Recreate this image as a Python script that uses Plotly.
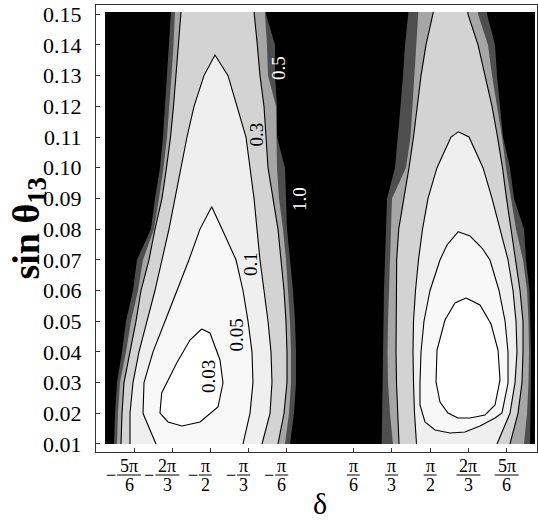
import plotly.graph_objects as go

SERIF = "'Liberation Serif', 'Times New Roman', Times, serif"

# ---------------- data ----------------
# vertical axis rows (sin theta13)
SIN_ROWS = [0.01, 0.02, 0.03, 0.04, 0.05, 0.06, 0.07, 0.08,
            0.09, 0.10, 0.11, 0.12, 0.13, 0.14, 0.15]
SIN_TICK_LABELS = ["0.01", "0.02", "0.03", "0.04", "0.05", "0.06", "0.07", "0.08",
                   "0.09", "0.10", "0.11", "0.12", "0.13", "0.14", "0.15"]
SIN_MIN, SIN_MAX = 0.01, 0.1507

# horizontal axis (delta, in units of pi/6 along the plotted axis)
DELTA_MIN, DELTA_MAX = -5.62, 5.62
DELTA_TICKS = [-4.86, -3.86, -2.87, -1.87, -0.87, 0.87, 1.87, 2.88, 3.88, 4.88]
DELTA_NUM = ["5π", "2π", "π", "π", "π", "π", "π", "π", "2π", "5π"]
DELTA_DEN = ["6", "3", "2", "3", "6", "6", "3", "2", "3", "6"]
DELTA_NEG = [True, True, True, True, True, False, False, False, False, False]

# contour levels and shades (region below each level)
LEVELS = ["1.0", "0.5", "0.3", "0.1", "0.05", "0.03"]
SHADES = ["#4e4e4e", "#a6a6a6", "#d3d3d3", "#efefef", "#f8f8f8", "#ffffff"]
LEVEL_LINES = [False, False, True, True, True, True]

# ---- left region (delta < 0) ----
LB_10_L = [-5.386, -5.359, -5.307, -5.176, -5.072, -4.889, -4.784, -4.418, -4.314, -4.183, -4.105, -4.052, -4.000, -3.948, -3.895]
LB_10_R = [-0.784, -0.680, -0.627, -0.627, -0.654, -0.706, -0.784, -0.863, -0.889, -0.915, -1.124, -1.124, -1.176, -1.176, -1.412]
LB_05_L = [-5.307, -5.281, -5.229, -5.072, -4.941, -4.758, -4.627, -4.340, -4.209, -4.092, -4.000, -3.935, -3.882, -3.830, -3.791]
LB_05_R = [-0.915, -0.810, -0.758, -0.758, -0.784, -0.837, -0.889, -0.967, -1.072, -1.124, -1.137, -1.150, -1.359, -1.386, -1.438]
LB_03_L = [-5.203, -5.176, -5.124, -4.967, -4.810, -4.680, -4.471, -4.314, -4.131, -4.013, -3.908, -3.830, -3.765, -3.694, -3.634]
LB_03_R = [-1.098, -0.941, -0.863, -0.863, -0.889, -0.941, -1.020, -1.098, -1.229, -1.359, -1.412, -1.464, -1.569, -1.639, -1.718]
LB_01_L = [-4.967, -4.967, -4.889, -4.732, -4.523, -4.314, -4.131, -3.948, -3.791, -3.634, -3.477, -3.294, -3.033]
LB_01_PEAK = (-2.745, 0.1367)
LB_01_R = [-1.516, -1.307, -1.255, -1.281, -1.359, -1.464, -1.569, -1.647, -1.725, -1.830, -1.935, -2.170, -2.405]
LB_005_L = [-4.288, -4.627, -4.601, -4.366, -4.052, -3.739, -3.425, -3.137]
LB_005_PEAK = (-2.831, 0.0873)
LB_005_R = [-2.013, -1.830, -1.752, -1.778, -1.882, -2.013, -2.196, -2.562]
LB_003_X = [-3.093, -2.876, -2.614, -2.536, -2.667, -3.137, -3.608, -3.974, -4.183, -4.139, -3.746, -3.399]
LB_003_Y = [0.04746, 0.04616, 0.03736, 0.02987, 0.02205, 0.01717, 0.01586, 0.01717, 0.02010, 0.02661, 0.03638, 0.04388]

# ---- right region (delta > 0) ----
RB_10_L = [1.613, 1.621, 1.634, 1.647, 1.660, 1.673, 1.699, 1.725, 1.752, 1.961, 2.039, 2.105, 2.170, 2.222, 2.308]
RB_10_R = [5.490, 5.503, 5.516, 5.516, 5.503, 5.477, 5.386, 5.333, 5.072, 4.967, 4.784, 4.706, 4.627, 4.575, 4.366]
RB_05_L = [1.908, 1.830, 1.778, 1.765, 1.778, 1.804, 1.830, 1.856, 1.882, 2.248, 2.366, 2.418, 2.471, 2.523, 2.570]
RB_05_R = [5.333, 5.412, 5.451, 5.464, 5.451, 5.412, 5.307, 5.124, 4.993, 4.863, 4.758, 4.627, 4.497, 4.392, 4.131]
RB_03_L = [2.065, 2.026, 2.000, 1.987, 1.987, 1.987, 2.005, 2.058, 2.196, 2.327, 2.444, 2.536, 2.641, 2.771, 2.962]
RB_03_R = [4.967, 5.176, 5.281, 5.307, 5.307, 5.229, 5.124, 4.993, 4.876, 4.771, 4.641, 4.497, 4.314, 4.131, 3.869]
RB_01_L = [2.523, 2.471, 2.444, 2.431, 2.444, 2.497, 2.575, 2.680, 2.824, 3.059, 3.425]
RB_01_PEAK = (3.616, 0.1117)
RB_01_R = [4.627, 4.967, 5.098, 5.150, 5.124, 5.046, 4.915, 4.706, 4.497, 4.261, 3.895]
RB_005_X = [3.616, 3.922, 4.235, 4.444, 4.680, 4.837, 4.915, 4.915, 4.758, 4.575, 4.183, 3.791,
            3.399, 3.007, 2.745, 2.614, 2.614, 2.641, 2.719, 2.876, 3.137, 3.320]
RB_005_Y = [0.07915, 0.07775, 0.07384, 0.06993, 0.06000, 0.05007, 0.03997, 0.02987, 0.02010, 0.01847, 0.01586, 0.01391,
            0.01358, 0.01456, 0.01717, 0.02270, 0.02987, 0.03997, 0.05007, 0.06000, 0.06993, 0.07482]
RB_003_X = [3.817, 4.183, 4.471, 4.654, 4.706, 4.575, 4.314, 3.922, 3.608, 3.346, 3.137, 3.033, 3.059, 3.268, 3.529]
RB_003_Y = [0.05756, 0.05528, 0.04909, 0.04062, 0.03085, 0.02270, 0.01945, 0.01847, 0.01847, 0.02010, 0.02368, 0.03020, 0.04062, 0.05039, 0.05593]

# contour labels
LABEL_TEXT = ["0.03", "0.05", "0.1", "0.3", "0.5", "1.0"]
LABEL_X = [-2.928, -2.183, -1.830, -1.686, -1.072, -0.549]
LABEL_Y = [0.03182, 0.04550, 0.06863, 0.11065, 0.13248, 0.08980]
LABEL_COLOR = ["black", "black", "black", "black", "white", "white"]


# ---------------- geometry helpers ----------------
def open_shape(left, right):
    fx = left + [left[-1], right[-1]] + right[::-1]
    fy = SIN_ROWS + [SIN_MAX, SIN_MAX] + SIN_ROWS[::-1]
    lx = left + [left[-1], None, right[-1]] + right[::-1]
    ly = SIN_ROWS + [SIN_MAX, None, SIN_MAX] + SIN_ROWS[::-1]
    return fx, fy, lx, ly


def peaked_shape(left, peak, right):
    rows = SIN_ROWS[:len(left)]
    fx = left + [peak[0]] + right[::-1]
    fy = rows + [peak[1]] + rows[::-1]
    return fx, fy, fx, fy


def loop_shape(xs, ys):
    fx = xs + [xs[0]]
    fy = ys + [ys[0]]
    return fx, fy, fx, fy


BLOBS = [
    [open_shape(LB_10_L, LB_10_R), open_shape(LB_05_L, LB_05_R), open_shape(LB_03_L, LB_03_R),
     peaked_shape(LB_01_L, LB_01_PEAK, LB_01_R), peaked_shape(LB_005_L, LB_005_PEAK, LB_005_R),
     loop_shape(LB_003_X, LB_003_Y)],
    [open_shape(RB_10_L, RB_10_R), open_shape(RB_05_L, RB_05_R), open_shape(RB_03_L, RB_03_R),
     peaked_shape(RB_01_L, RB_01_PEAK, RB_01_R), loop_shape(RB_005_X, RB_005_Y),
     loop_shape(RB_003_X, RB_003_Y)],
]

fig = go.Figure()

fig.add_trace(go.Scatter(
    x=[DELTA_MIN, DELTA_MAX, DELTA_MAX, DELTA_MIN, DELTA_MIN],
    y=[SIN_MIN, SIN_MIN, SIN_MAX, SIN_MAX, SIN_MIN],
    fill="toself", fillcolor="black", mode="lines", line=dict(width=0),
    hoverinfo="skip", showlegend=False))

for li in range(len(LEVELS)):
    for blob in BLOBS:
        fx, fy, lx, ly = blob[li]
        fig.add_trace(go.Scatter(x=fx, y=fy, fill="toself", fillcolor=SHADES[li],
                                 mode="lines", line=dict(width=0),
                                 hoverinfo="skip", showlegend=False))
    if LEVEL_LINES[li]:
        for blob in BLOBS:
            fx, fy, lx, ly = blob[li]
            fig.add_trace(go.Scatter(x=lx, y=ly, mode="lines",
                                     line=dict(color="black", width=1.1),
                                     hoverinfo="skip", showlegend=False))

annotations = []
shapes = []

for t, x, y, c in zip(LABEL_TEXT, LABEL_X, LABEL_Y, LABEL_COLOR):
    annotations.append(dict(text=t, x=x, y=y, xref="x", yref="y", showarrow=False,
                            textangle=-90, font=dict(family=SERIF, size=19, color=c)))

FRAC_SIZE = 18
for pos, num, den, neg in zip(DELTA_TICKS, DELTA_NUM, DELTA_DEN, DELTA_NEG):
    shift = -5 if neg else 0
    w = 24 if len(num) > 1 else 13
    annotations.append(dict(text=num, x=pos, xref="x", y=0, yref="paper", xshift=shift,
                            yshift=-14, yanchor="middle", xanchor="center", showarrow=False,
                            font=dict(family=SERIF, size=FRAC_SIZE, color="black")))
    annotations.append(dict(text=den, x=pos, xref="x", y=0, yref="paper", xshift=shift,
                            yshift=-33, yanchor="middle", xanchor="center", showarrow=False,
                            font=dict(family=SERIF, size=FRAC_SIZE, color="black")))
    shapes.append(dict(type="line", xref="x", xsizemode="pixel", xanchor=pos,
                       x0=shift - w / 2, x1=shift + w / 2,
                       yref="paper", ysizemode="pixel", yanchor=0, y0=-23, y1=-23,
                       line=dict(color="black", width=1)))
    if neg:
        annotations.append(dict(text="−", x=pos, xref="x", y=0, yref="paper",
                                xshift=shift - w / 2 - 6, yshift=-23, yanchor="middle",
                                xanchor="center", showarrow=False,
                                font=dict(family=SERIF, size=FRAC_SIZE, color="black")))

annotations.append(dict(text="δ", x=0, xref="x", y=0, yref="paper", yshift=-51,
                        yanchor="middle", xanchor="center", showarrow=False,
                        font=dict(family=SERIF, size=30, color="black")))
annotations.append(dict(text="<b>sin θ<sub>13</sub></b>", x=0, xref="paper", y=0.5,
                        yref="paper", xshift=-68, xanchor="center", yanchor="middle",
                        textangle=-90, showarrow=False,
                        font=dict(family=SERIF, size=38, color="black")))

fig.update_layout(
    width=538, height=521, autosize=False,
    margin=dict(l=96, r=1, t=5, b=69, pad=0),
    plot_bgcolor="white", paper_bgcolor="white",
    showlegend=False,
    font=dict(family=SERIF),
    annotations=annotations, shapes=shapes,
    xaxis=dict(range=[-5.856, 5.673], showgrid=False, zeroline=False,
               tickmode="array", tickvals=DELTA_TICKS, showticklabels=False,
               ticks="inside", ticklen=4, tickcolor="#333", tickwidth=1,
               showline=True, mirror=True, linecolor="#333", linewidth=1),
    yaxis=dict(range=[0.00739, 0.1530], showgrid=False, zeroline=False,
               tickmode="array", tickvals=SIN_ROWS, ticktext=SIN_TICK_LABELS,
               ticks="inside", ticklen=4, tickcolor="#333", tickwidth=1,
               ticklabelstandoff=9,
               tickfont=dict(family=SERIF, size=22, color="black"),
               showline=True, mirror=True, linecolor="#333", linewidth=1),
)

fig.write_html("out.html",
               config={"displayModeBar": False},
               post_script="document.body.style.margin='0';document.body.style.overflow='hidden';")
